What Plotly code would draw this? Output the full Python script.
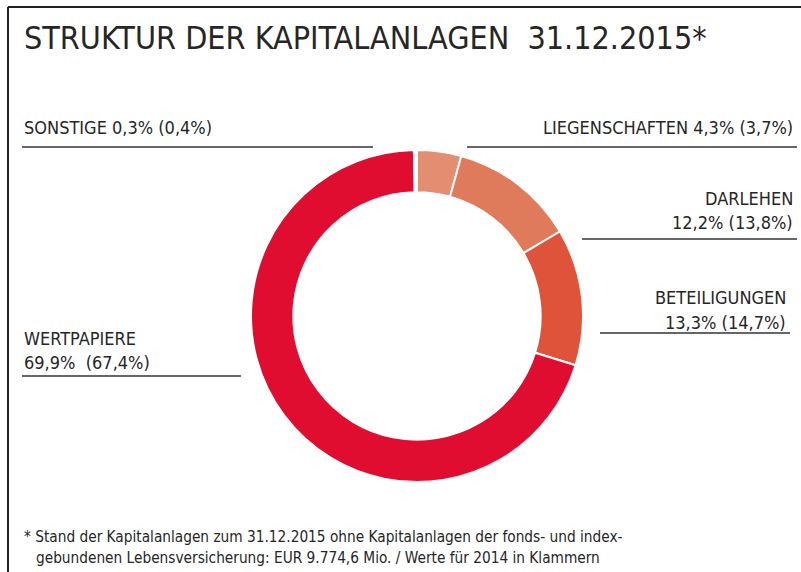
import plotly.graph_objects as go

W, H = 801, 572

categories = ["LIEGENSCHAFTEN", "DARLEHEN", "BETEILIGUNGEN", "WERTPAPIERE", "SONSTIGE"]
values_2015 = [4.3, 12.2, 13.3, 69.9, 0.3]
values_2014 = [3.7, 13.8, 14.7, 67.4, 0.4]
colors = ["#E38E70", "#DF7B5A", "#E0533B", "#E00D30", "#FFFFFF"]

FONT = "DejaVu Sans Condensed, DejaVu Sans, sans-serif"
TXT = "#262626"

def fmt(v):
    return f"{v:.1f}".replace(".", ",") + "%"

def px(x):
    return x / W

def py(y):
    return 1 - y / H

cx, cy, r = 417, 316, 166

fig = go.Figure(go.Pie(
    labels=categories,
    values=values_2015,
    sort=False,
    direction="clockwise",
    rotation=0,
    hole=0.745,
    marker=dict(colors=colors, line=dict(color="white", width=2)),
    textinfo="none",
    hoverinfo="label+percent",
    showlegend=False,
    domain=dict(x=[px(cx - r), px(cx + r)], y=[py(cy + r), py(cy - r)]),
))

ann = []
def label(x, y, text, anchor, size=18):
    ann.append(dict(x=px(x), y=py(y), xref="paper", yref="paper", text=text,
                    showarrow=False, xanchor=anchor, yanchor="middle",
                    font=dict(family=FONT, size=size, color=TXT)))

label(22, 38, "STRUKTUR DER KAPITALANLAGEN  31.12.2015*", "left", 32)

label(22, 127, f"SONSTIGE {fmt(values_2015[4])} ({fmt(values_2014[4])})", "left")
label(795, 127, f"LIEGENSCHAFTEN {fmt(values_2015[0])} ({fmt(values_2014[0])})", "right")
label(795, 198, "DARLEHEN", "right")
label(795, 223, f"{fmt(values_2015[1])} ({fmt(values_2014[1])})", "right")
label(788, 297, "BETEILIGUNGEN", "right")
label(788, 322, f"{fmt(values_2015[2])} ({fmt(values_2014[2])})", "right")
label(22, 338, "WERTPAPIERE", "left")
label(22, 362, f"{fmt(values_2015[3])}  ({fmt(values_2014[3])})", "left")

label(22, 537, "* Stand der Kapitalanlagen zum 31.12.2015 ohne Kapitalanlagen der fonds- und index-", "left", 15.25)
label(34, 558, "gebundenen Lebensversicherung: EUR 9.774,6 Mio. / Werte für 2014 in Klammern", "left", 15.25)

shapes = []
def hline(x0, x1, y):
    shapes.append(dict(type="line", xref="paper", yref="paper", x0=px(x0), x1=px(x1),
                       y0=py(y), y1=py(y), line=dict(color="#333333", width=1.5)))

hline(22, 373, 147)
hline(467, 797, 147)
hline(582, 797, 239)
hline(600, 790, 333)
hline(22, 241, 376)

# frame (top and left)
shapes.append(dict(type="line", xref="paper", yref="paper", x0=px(8), x1=1, y0=py(7), y1=py(7),
                   line=dict(color="#222222", width=2)))
shapes.append(dict(type="line", xref="paper", yref="paper", x0=px(8), x1=px(8), y0=py(7), y1=0,
                   line=dict(color="#222222", width=2)))

fig.update_layout(
    width=W, height=H,
    margin=dict(l=0, r=0, t=0, b=0),
    paper_bgcolor="white", plot_bgcolor="white",
    annotations=ann, shapes=shapes,
)

fig.write_html("out.html", config={"displayModeBar": False},
               post_script="document.body.style.margin='0px';document.body.style.overflow='hidden';")
